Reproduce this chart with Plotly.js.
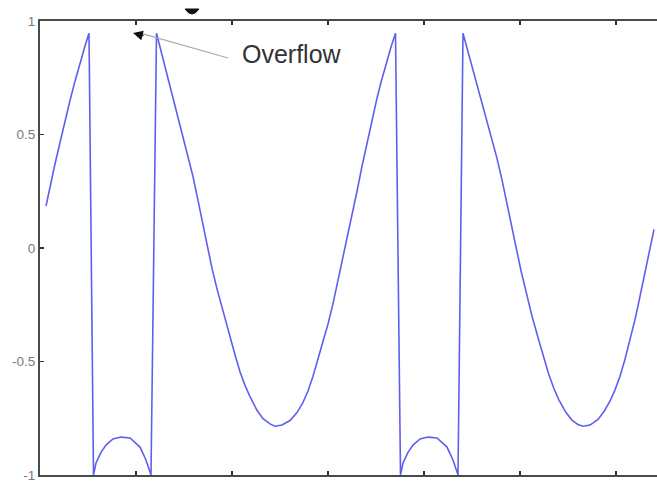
<!DOCTYPE html>
<html>
<head>
<meta charset="utf-8">
<script src="https://cdn.plot.ly/plotly-3.0.1.min.js"></script>
<style>html,body{margin:0;padding:0;background:#fff;}#chart{width:657px;height:482px;}</style>
</head>
<body>
<div id="chart"></div>
<script>
// sample position (arbitrary time units) and wrapped signal value
var sampleX = [6,10,15,20,25,30,35,40,45,49,
  53.5,56,61,66,73,81,90,100,106,110,111,
  116.5,125,133,138,143,148,153,158,163,167,172,177,183,190,195,200,205,210,217,223,230,235,242,250,257,263,268,273,278,283,288,293,299,305,311,317,322,327,332,337,341,346,351,355.5,
  360.5,363,368,373,380,388,397,407,413,417,418,
  423,432,440,445,450,457,462,467,472,476,481,486,492,499,504,509,514,519,526,532,538,543,550,558,564,570,575,580,585,590,595,598,603,609,614];
var signalY = [0.185,0.27,0.37,0.465,0.56,0.65,0.735,0.815,0.89,0.946,
  -1.0,-0.947,-0.90,-0.868,-0.841,-0.833,-0.837,-0.877,-0.934,-0.987,-1.0,
  0.946,0.80,0.67,0.585,0.50,0.41,0.315,0.21,0.10,0.01,-0.09,-0.18,-0.28,-0.39,-0.47,-0.545,-0.605,-0.655,-0.715,-0.752,-0.775,-0.785,-0.78,-0.76,-0.725,-0.68,-0.63,-0.565,-0.49,-0.415,-0.335,-0.245,-0.125,-0.005,0.12,0.25,0.36,0.465,0.565,0.66,0.73,0.81,0.885,0.946,
  -1.0,-0.947,-0.90,-0.868,-0.841,-0.833,-0.837,-0.877,-0.934,-0.987,-1.0,
  0.946,0.80,0.66,0.58,0.50,0.395,0.30,0.20,0.095,0.005,-0.10,-0.19,-0.30,-0.41,-0.49,-0.56,-0.62,-0.67,-0.725,-0.758,-0.778,-0.785,-0.78,-0.755,-0.72,-0.675,-0.625,-0.565,-0.49,-0.405,-0.315,-0.255,-0.15,-0.03,0.082];
var xTickVals = [96,192,288,384,480,576];
var yTickVals = [1,0.5,0,-0.5,-1];
var yTickText = ["1","0.5","0","-0.5","-1"];
var annotationText = "Overflow";

var trace = {
  x: sampleX, y: signalY, type: 'scatter', mode: 'lines',
  line: {color: 'rgb(95,95,238)', width: 1.6},
  hoverinfo: 'skip'
};

var layout = {
  width: 657, height: 482,
  margin: {l: 40, r: 0, t: 21, b: 7},
  paper_bgcolor: '#fff', plot_bgcolor: '#fff',
  showlegend: false,
  xaxis: {
    range: [0, 617], showgrid: false, zeroline: false,
    showline: true, linecolor: '#4a4a4a', linewidth: 2, mirror: 'ticks',
    ticks: 'inside', ticklen: 4, tickwidth: 1.5, tickcolor: '#333',
    tickvals: xTickVals, showticklabels: false
  },
  yaxis: {
    range: [-1, 1], showgrid: false, zeroline: false,
    showline: true, linecolor: '#4a4a4a', linewidth: 2, mirror: false,
    ticks: 'inside', ticklen: 4, tickwidth: 1.5, tickcolor: '#333',
    tickvals: yTickVals, ticktext: yTickText, ticklabeloverflow: 'allow',
    tickfont: {family: 'Liberation Sans, Arial, sans-serif', size: 13.5, color: '#7a7a7a'}
  },
  shapes: [
    {type: 'line', xref: 'x', yref: 'y', x0: 103, y0: 0.943, x1: 188, y1: 0.837,
     line: {color: '#aaaaaa', width: 1.2}},
    {type: 'path', xref: 'paper', yref: 'paper',
     path: 'M 0.2350 1.0264 L 0.2577 1.0264 Q 0.2464 1.0044 0.2350 1.0264 Z',
     fillcolor: '#111', line: {color: '#111', width: 1}}
  ],
  annotations: [
    {x: 252, y: 0.855, xref: 'x', yref: 'y', text: annotationText, showarrow: false,
     xanchor: 'center', yanchor: 'middle',
     font: {family: 'Liberation Sans, Arial, sans-serif', size: 25, color: '#333'}},
    {x: 93, y: 0.947, xref: 'x', yref: 'y', text: '', showarrow: true,
     ax: 12, ay: 3, arrowhead: 2, arrowsize: 1.4, arrowwidth: 1.4, arrowcolor: '#111', standoff: 0}
  ]
};

Plotly.newPlot('chart', [trace], layout, {staticPlot: true, displayModeBar: false});
</script>
</body>
</html>
